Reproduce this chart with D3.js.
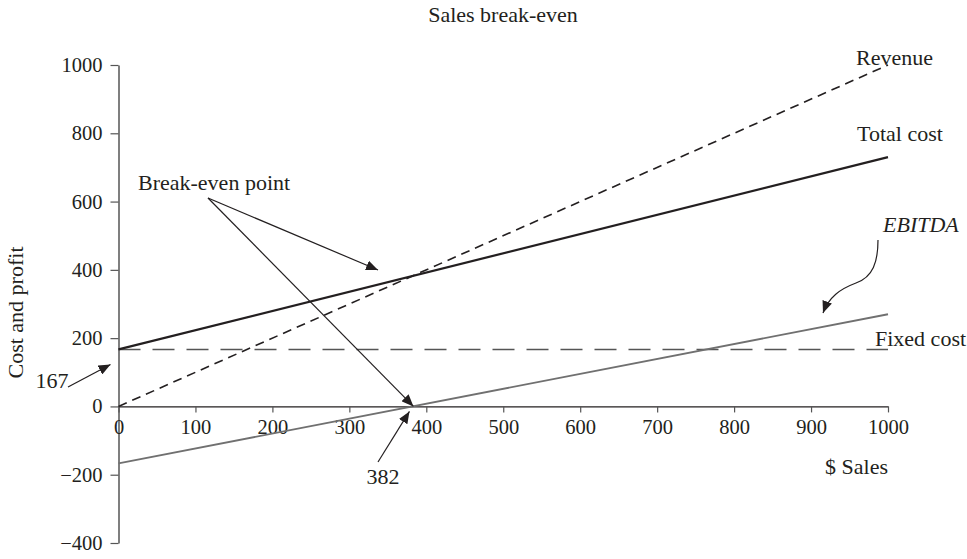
<!DOCTYPE html>
<html><head><meta charset="utf-8">
<script src="https://cdn.jsdelivr.net/npm/d3@7"></script>
<style>body{margin:0;background:#fff}svg{display:block}text{font-family:"Liberation Serif","DejaVu Serif",serif;fill:#231f20}</style>
</head><body><svg id="c" width="967" height="559"></svg>
<script>
const salesX = [0, 1000];
const revenue = [0, 1000];
const totalCost = [167, 730];
const fixedCost = [167, 167];
const ebitda = [-167, 270];
const xTicks = [0,100,200,300,400,500,600,700,800,900,1000];
const yTicks = [-400,-200,0,200,400,600,800,1000];
const breakEven = 382;

const svg = d3.select("#c");
const x = d3.scaleLinear().domain([0,1000]).range([118.5,888]);
const y = d3.scaleLinear().domain([-400,1000]).range([543,65]);
const FONT = '"Liberation Serif","DejaVu Serif",serif';

const defs = svg.append("defs");
defs.append("marker").attr("id","ah").attr("viewBox","0 0 12 10").attr("refX",12).attr("refY",5)
  .attr("markerWidth",12).attr("markerHeight",10).attr("markerUnits","userSpaceOnUse").attr("orient","auto")
  .append("path").attr("d","M0,0L12,5L0,10Z").attr("fill","#231f20");

svg.append("text").attr("x",503).attr("y",22).attr("text-anchor","middle").attr("font-size",22).text("Sales break-even");

// y axis
const ya = svg.append("g").attr("transform",`translate(${x(0)},0)`)
  .call(d3.axisLeft(y).tickValues(yTicks).tickSize(8).tickSizeOuter(0).tickFormat(d=>d<0?"\u2212"+(-d):String(d)));
ya.select(".domain").attr("stroke","#555").attr("stroke-width",1.5);
ya.selectAll(".tick line").attr("stroke","#555").attr("stroke-width",1.2);
ya.selectAll(".tick text").attr("font-size",20.5).attr("x",-16).attr("fill","#231f20").style("font-family",FONT);

// x axis
const xa = svg.append("g").attr("transform",`translate(0,${y(0)})`)
  .call(d3.axisBottom(x).tickValues(xTicks).tickSize(6).tickSizeOuter(0).tickFormat(d=>String(d)));
xa.select(".domain").attr("stroke","#231f20").attr("stroke-width",1.3);
xa.selectAll(".tick line").attr("stroke","#555").attr("stroke-width",1.2);
xa.selectAll(".tick text").attr("font-size",20.5).attr("y",27.5).attr("dy","0").attr("fill","#231f20").style("font-family",FONT);

svg.append("text").attr("transform","translate(23,312.5) rotate(-90)").attr("text-anchor","middle").attr("font-size",22).text("Cost and profit");
svg.append("text").attr("x",888).attr("y",474).attr("text-anchor","end").attr("font-size",22).text("$ Sales");

const line = d3.line().x(d=>x(d[0])).y(d=>y(d[1]));
const pts = v => salesX.map((s,i)=>[s,v[i]]);

svg.append("path").attr("d",line(pts(fixedCost))).attr("fill","none").attr("stroke","#555").attr("stroke-width",1.5).attr("stroke-dasharray","22,12");
svg.append("path").attr("d",line(pts(ebitda))).attr("fill","none").attr("stroke","#707070").attr("stroke-width",1.8);
svg.append("path").attr("d",line(pts(revenue))).attr("fill","none").attr("stroke","#231f20").attr("stroke-width",1.6).attr("stroke-dasharray","9,6");
svg.append("path").attr("d",line(pts(totalCost))).attr("fill","none").attr("stroke","#231f20").attr("stroke-width",2.2);

// series labels
svg.append("text").attr("x",856).attr("y",65).attr("font-size",22).text("Revenue");
svg.append("text").attr("x",857).attr("y",141).attr("font-size",22).text("Total cost");
svg.append("text").attr("x",883).attr("y",232).attr("font-size",22).attr("font-style","italic").text("EBITDA");
svg.append("text").attr("x",875).attr("y",346).attr("font-size",22).text("Fixed cost");

// annotations
svg.append("text").attr("x",138).attr("y",190).attr("font-size",22).text("Break-even point");
function arrow(x1,y1,x2,y2){
  svg.append("line").attr("x1",x1).attr("y1",y1).attr("x2",x2).attr("y2",y2)
    .attr("stroke","#231f20").attr("stroke-width",1.2).attr("marker-end","url(#ah)");
}
arrow(208,198,378,270);
arrow(208,198,x(breakEven)+1,y(0));
svg.append("text").attr("x",383).attr("y",484).attr("text-anchor","middle").attr("font-size",22).text(String(breakEven));
arrow(378,462,x(breakEven)-3,y(0)+5);
svg.append("text").attr("x",52).attr("y",388).attr("text-anchor","middle").attr("font-size",22).text(String(fixedCost[0]));
arrow(68,387,x(0)-8,y(fixedCost[0])+15);
svg.append("path").attr("d","M878,240 C878,262 873,277 856,283 C840,289 829,297 823,313")
  .attr("fill","none").attr("stroke","#231f20").attr("stroke-width",1.2).attr("marker-end","url(#ah)");
</script></body></html>
